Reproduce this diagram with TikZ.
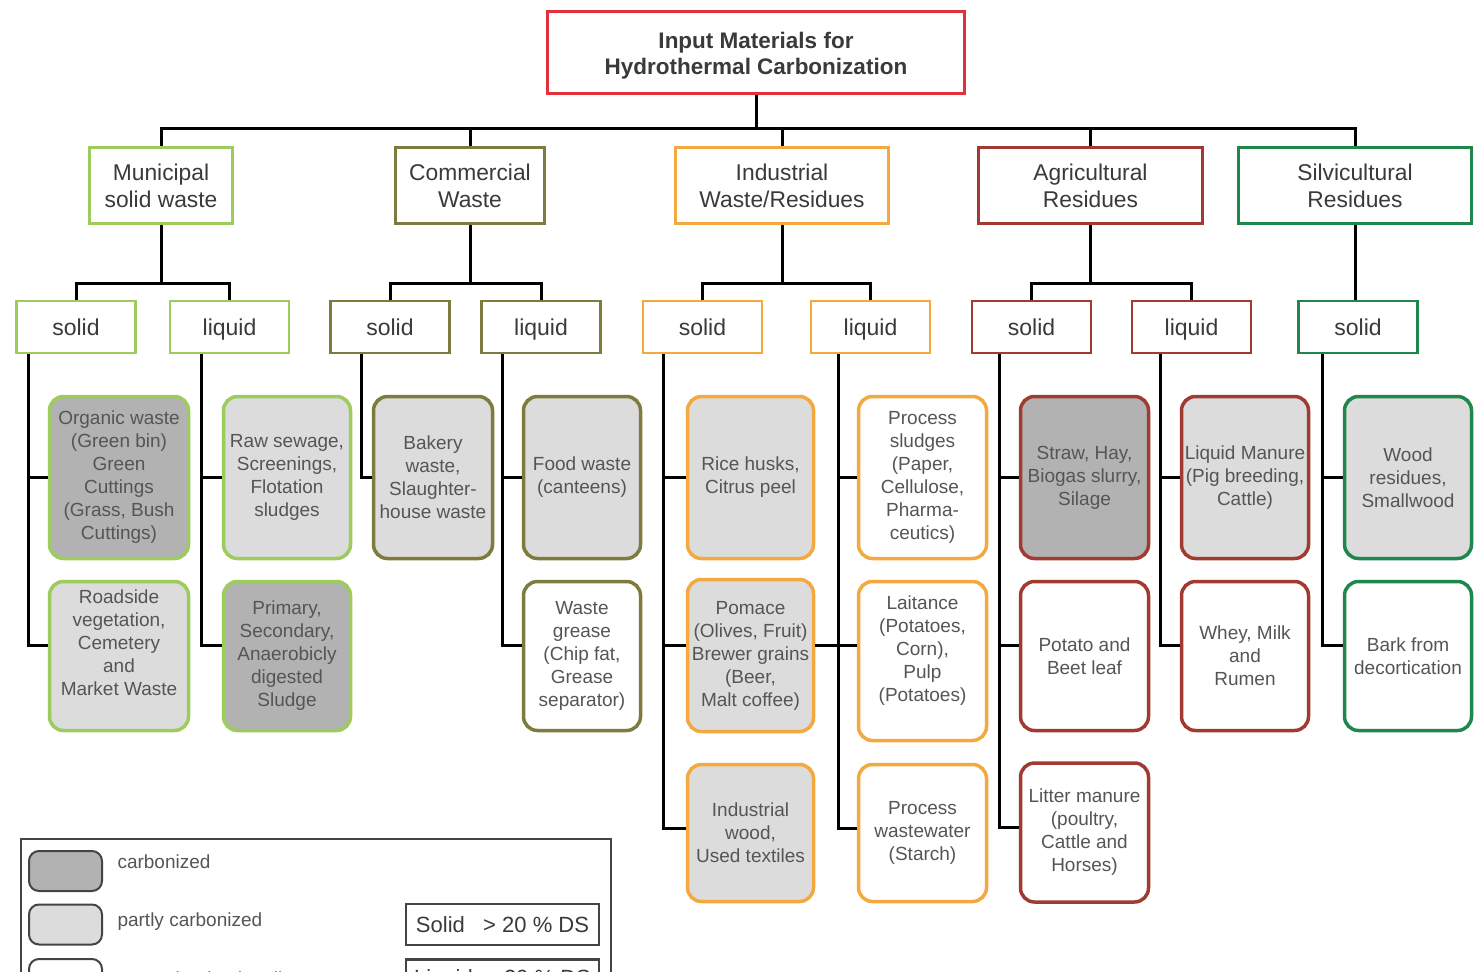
\documentclass[tikz,border=0pt]{standalone}
\usepackage{fontspec}
\setmainfont{Liberation Sans}
\definecolor{cMun}{HTML}{9DCB5E}
\definecolor{cCom}{HTML}{7E7B3E}
\definecolor{cInd}{HTML}{F4A93F}
\definecolor{cAgr}{HTML}{A13B32}
\definecolor{cSil}{HTML}{20874C}
\definecolor{cTit}{HTML}{E2313D}
\definecolor{fDark}{HTML}{B2B2B2}
\definecolor{fLight}{HTML}{DCDCDC}
\definecolor{txtA}{HTML}{3A3A3A}
\definecolor{txtB}{HTML}{555555}
\definecolor{legc}{HTML}{444444}
\newcommand\lowpad[1]{\rule[-#1]{0pt}{0pt}}
\begin{document}
\begin{tikzpicture}[x=1pt,y=-1pt,
  conn/.style={draw=black, line width=3pt},
  titlebox/.style={draw=cTit, line width=3pt, inner sep=0pt, align=center, text=txtA,
    font=\fontsize{22.5}{26.5}\selectfont\bfseries},
  catbox/.style={draw=#1, line width=3pt, minimum height=76pt, inner sep=0pt, align=center, text=txtA,
    font=\fontsize{22.8}{27}\selectfont},
  subbox/.style={draw=#1, line width=2.5pt, minimum width=119pt, minimum height=52pt, inner sep=0pt, text=txtA,
    text height=20pt, text depth=3pt, font=\fontsize{23}{27}\selectfont},
  leaf/.style 2 args={draw=#1, fill=#2, line width=3.5pt, rounded corners=14pt, inner sep=0pt, align=center, text=txtB,
    font=\fontsize{19}{23}\selectfont},
  swatch/.style={draw=legc, fill=#1, line width=2pt, rounded corners=10pt, minimum width=73pt, minimum height=40pt},
  legtext/.style={anchor=west, text=txtB, font=\fontsize{19}{22}\selectfont},
  dsbox/.style={draw=legc, line width=2.5pt, minimum width=193pt, minimum height=41pt, inner sep=0pt, text=txtA,
    font=\fontsize{22}{26}\selectfont}
]
\useasboundingbox (0,0) rectangle (1476,972);
\fill[white] (0,0) rectangle (1476,972);

% title
\node[titlebox, minimum width=417pt, minimum height=82pt] (title) at (756,52.5) {\rule{0pt}{23pt}Input Materials for\\Hydrothermal Carbonization};

% categories
\node[catbox=cMun, minimum width=143pt] (mun) at (161,185.5) {Municipal\\solid waste};
\node[catbox=cCom, minimum width=149pt] (com) at (470,185.5) {Commercial\\Waste};
\node[catbox=cInd, minimum width=213pt] (ind) at (782,185.5) {Industrial\\Waste/Residues};
\node[catbox=cAgr, minimum width=224pt] (agr) at (1090.5,185.5) {Agricultural\\Residues};
\node[catbox=cSil, minimum width=233pt] (sil) at (1355,185.5) {Silvicultural\\Residues};

% subcategories
\node[subbox=cMun] (ms) at (76,327) {solid};
\node[subbox=cMun] (ml) at (229.5,327) {liquid};
\node[subbox=cCom] (cs) at (390,327) {solid};
\node[subbox=cCom] (cl) at (541,327) {liquid};
\node[subbox=cInd] (is) at (702.5,327) {solid};
\node[subbox=cInd] (il) at (870.5,327) {liquid};
\node[subbox=cAgr] (as) at (1031.5,327) {solid};
\node[subbox=cAgr] (al) at (1191.5,327) {liquid};
\node[subbox=cSil] (ss) at (1358,327) {solid};

% leaves: municipal
\node[leaf={cMun}{fDark}, minimum width=139pt, minimum height=162pt] (organic) at (119,477.5) {Organic waste\\(Green bin)\\Green\\Cuttings\\(Grass, Bush\\Cuttings)};
\node[leaf={cMun}{fLight}, minimum width=139pt, minimum height=149pt] (roadside) at (119,656) {Roadside\\vegetation,\\Cemetery\\and\\Market Waste\lowpad{27pt}};
\node[leaf={cMun}{fLight}, minimum width=127pt, minimum height=162pt] (raw) at (287,477.5) {Raw sewage,\\Screenings,\\Flotation\\sludges};
\node[leaf={cMun}{fDark}, minimum width=127pt, minimum height=149pt] (primary) at (287,656) {Primary,\\Secondary,\\Anaerobicly\\digested\\Sludge};
% commercial
\node[leaf={cCom}{fLight}, minimum width=119pt, minimum height=162pt] (bakery) at (433,477.5) {Bakery\\waste,\\Slaughter-\\house waste};
\node[leaf={cCom}{fLight}, minimum width=117pt, minimum height=162pt] (food) at (582,477.5) {Food waste\\(canteens)};
\node[leaf={cCom}{white}, minimum width=117pt, minimum height=149pt] (grease) at (582,656) {Waste\\grease\\(Chip fat,\\Grease\\separator)};
% industrial
\node[leaf={cInd}{fLight}, minimum width=126pt, minimum height=162pt] (rice) at (750.5,477.5) {Rice husks,\\Citrus peel};
\node[leaf={cInd}{fLight}, minimum width=126pt, minimum height=152pt] (pomace) at (750.5,655.5) {Pomace\\(Olives, Fruit)\\Brewer grains\\(Beer,\\Malt coffee)};
\node[leaf={cInd}{fLight}, minimum width=126pt, minimum height=137pt] (indwood) at (750.5,833) {Industrial\\wood,\\Used textiles};
\node[leaf={cInd}{white}, minimum width=128pt, minimum height=162pt] (psludge) at (922.5,477.5) {Process\\sludges\\(Paper,\\Cellulose,\\Pharma-\\ceutics)};
\node[leaf={cInd}{white}, minimum width=128pt, minimum height=159pt] (laitance) at (922.5,661) {Laitance\\(Potatoes,\\Corn),\\Pulp\\(Potatoes)\lowpad{25pt}};
\node[leaf={cInd}{white}, minimum width=128pt, minimum height=137pt] (pww) at (922.5,833) {Process\\wastewater\\(Starch)};
% agricultural
\node[leaf={cAgr}{fDark}, minimum width=128pt, minimum height=162pt] (straw) at (1084.5,477.5) {Straw, Hay,\\Biogas slurry,\\Silage};
\node[leaf={cAgr}{white}, minimum width=128pt, minimum height=149pt] (potato) at (1084.5,656) {Potato and\\Beet leaf};
\node[leaf={cAgr}{white}, minimum width=128pt, minimum height=139pt] (litter) at (1084.5,832.5) {Litter manure\\(poultry,\\Cattle and\\Horses)};
\node[leaf={cAgr}{fLight}, minimum width=127pt, minimum height=162pt] (lman) at (1245,477.5) {Liquid Manure\\(Pig breeding,\\Cattle)};
\node[leaf={cAgr}{white}, minimum width=127pt, minimum height=149pt] (whey) at (1245,656) {Whey, Milk\\and\\Rumen};
% silvicultural
\node[leaf={cSil}{fLight}, minimum width=127pt, minimum height=162pt] (wood) at (1408,477.5) {Wood\\residues,\\Smallwood};
\node[leaf={cSil}{white}, minimum width=127pt, minimum height=149pt] (bark) at (1408,656) {Bark from\\decortication};

% connectors: title to categories
\coordinate (bus) at (756,128);
\foreach \c in {mun,com,ind,agr,sil}{
  \draw[conn] (title.south) -- (bus) -| (\c.north);
}
% categories to subcategories
\coordinate (mj) at (161,283);
\coordinate (cj) at (470,283);
\coordinate (ij) at (782,283);
\coordinate (aj) at (1090.5,283);
\draw[conn] (mun.south) -- (mj) -| (ms.north);
\draw[conn] (mj) -| (ml.north);
\draw[conn] (com.south) -- (cj) -| (cs.north);
\draw[conn] (cj) -| (cl.north);
\draw[conn] (ind.south) -- (ij) -| (is.north);
\draw[conn] (ij) -| (il.north);
\draw[conn] (agr.south) -- (aj) -| (as.north);
\draw[conn] (aj) -| (al.north);
\draw[conn] (sil.south) -- (sil.south |- ss.north);

% subcategories to leaves
\coordinate (msd) at (28,354);
\coordinate (mld) at (201,354);
\coordinate (csd) at (361,354);
\coordinate (cld) at (502,354);
\coordinate (isd) at (663,354);
\coordinate (ild) at (838,354);
\coordinate (asd) at (999,354);
\coordinate (ald) at (1160,354);
\coordinate (ssd) at (1322,354);
\coordinate (pomr) at ([yshift=10.5pt]pomace.east);
\tikzset{r2/.style={yshift=11pt}, r3/.style={yshift=5pt}}
\draw[conn] (msd) |- ([r2]roadside.west);
\draw[conn] (msd) |- (organic.west);
\draw[conn] (mld) |- ([r2]primary.west);
\draw[conn] (mld) |- (raw.west);
\draw[conn] (csd) |- (bakery.west);
\draw[conn] (cld) |- ([r2]grease.west);
\draw[conn] (cld) |- (food.west);
\draw[conn] (isd) |- ([r3]indwood.west);
\draw[conn] (isd) |- ([yshift=10.5pt]pomace.west);
\draw[conn] (isd) |- (rice.west);
\draw[conn] (ild) |- ([r3]pww.west);
\draw[conn] (ild) |- ([yshift=16pt]laitance.west);
\draw[conn] (ild) |- (psludge.west);
\draw[conn] (pomr) -- (pomr -| ild);
\draw[conn] (asd) |- ([r3]litter.west);
\draw[conn] (asd) |- ([r2]potato.west);
\draw[conn] (asd) |- (straw.west);
\draw[conn] (ald) |- ([r2]whey.west);
\draw[conn] (ald) |- (lman.west);
\draw[conn] (ssd) |- ([r2]bark.west);
\draw[conn] (ssd) |- (wood.west);

% legend
\node[draw=legc, line width=2pt, minimum width=590pt, minimum height=170pt, anchor=north west, inner sep=0pt] (legend) at (20,838) {};
\node[swatch=fDark] (sw1) at (65.5,871) {};
\node[swatch=fLight] (sw2) at (65.5,924.5) {};
\node[swatch=white] (sw3) at (65.5,979) {};
\node[legtext] (lt1) at (114,862) {carbonized};
\node[legtext] (lt2) at (114,922) {partly carbonized};
\node[legtext] (lt3) at (114,979) {not carbonized until now};
\node[dsbox] (ds1) at (502.5,924.5) {Solid\ \ \ > 20 \% DS};
\node[dsbox] (ds2) at (502.5,980) {Liquid\ \ < 20 \% DS};
\end{tikzpicture}
\end{document}
